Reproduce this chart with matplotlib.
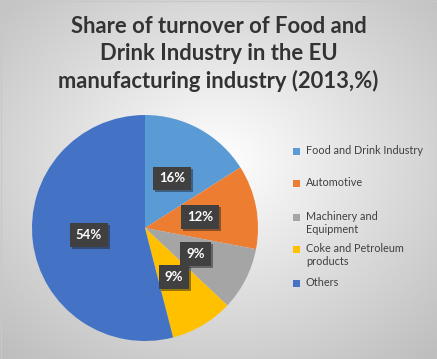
import numpy as np
import matplotlib.pyplot as plt
from matplotlib.patches import Rectangle

categories = ["Food and Drink Industry", "Automotive", "Machinery and\nEquipment",
              "Coke and Petroleum\nproducts", "Others"]
shares = [16, 12, 9, 9, 54]
colors = ["#5B9BD5", "#ED7D31", "#A5A5A5", "#FFC000", "#4472C4"]

plt.rcParams['font.family'] = ['Lato', 'DejaVu Sans']

W, H = 437, 359
fig = plt.figure(figsize=(W / 100, H / 100), dpi=100)

# radial grey background
bg = fig.add_axes([0, 0, 1, 1])
yy, xx = np.mgrid[0:H, 0:W]
d = np.sqrt(((xx - W * 0.5) / W) ** 2 + ((yy - H * 0.45) / H) ** 2)
g = np.clip(1.0 - d * 0.35, 0, 1)
bg.imshow(np.dstack([g, g, g]), extent=[0, W, H, 0], aspect='auto')
bg.add_patch(Rectangle((0.5, 0.5), W - 1, H - 1, fill=False, ec="#c8c8c8", lw=1))
bg.set_xlim(0, W)
bg.set_ylim(H, 0)
bg.axis('off')

fig.text(0.5, 1 - 54 / H, "Share of turnover of Food and\nDrink Industry in the EU\nmanufacturing industry (2013,%)",
         ha='center', va='center', fontsize=15.8, fontweight='bold', color="#333333", linespacing=1.32)

cx, cy, r = 145, 228, 113
ax = fig.add_axes([(cx - r) / W, (H - cy - r) / H, 2 * r / W, 2 * r / H])
wedges, texts, autotexts = ax.pie(shares, colors=colors, startangle=90, counterclock=False,
                                  autopct='%d%%', pctdistance=0.5,
                                  wedgeprops=dict(linewidth=0))
for t in autotexts:
    t.set_color('white')
    t.set_fontweight('bold')
    t.set_fontsize(9.5)
    t.set_bbox(dict(boxstyle='square,pad=0.45', fc='#404040', ec='none'))
ax.set_xlim(-1, 1)
ax.set_ylim(-1, 1)
ax.set_aspect('equal')

# soft shadow behind the data label boxes
fig.canvas.draw()
for t in autotexts:
    e = t.get_bbox_patch().get_window_extent()
    ax.add_patch(Rectangle((e.x0 + 2, e.y0 - 2), e.width, e.height, transform=None,
                           fc='#1a1a1a', ec='none', alpha=0.45, zorder=t.get_zorder() - 0.5))

# legend
rows = [151, 183, 217, 249, 283]
for c, lab, y in zip(colors, categories, rows):
    bg.add_patch(Rectangle((293, y - 3.5), 7, 7, fc=c, ec='none'))
    two = '\n' in lab
    bg.text(306, y - (6 if two else 0), lab, ha='left', va='top' if two else 'center',
            fontsize=7.8, color='#404040', linespacing=1.2)

fig.savefig("out.png", dpi=100)
